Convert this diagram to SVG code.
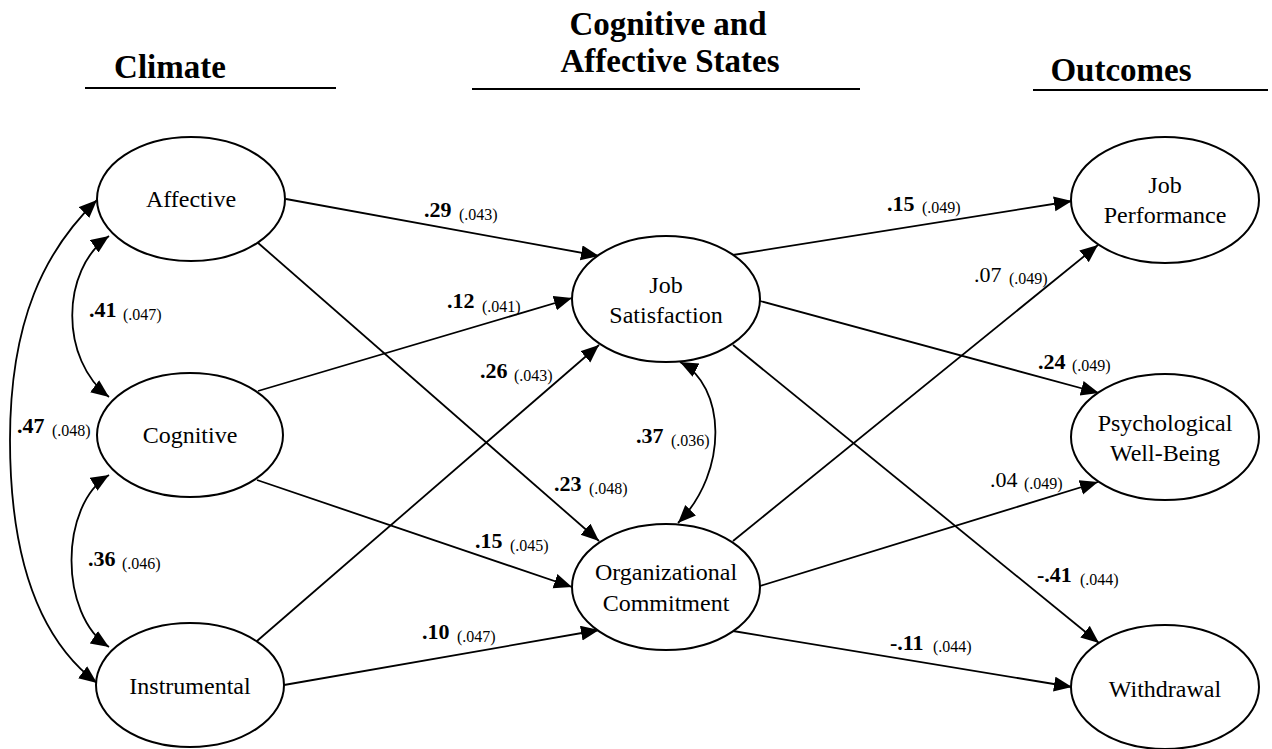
<svg xmlns="http://www.w3.org/2000/svg" width="1272" height="749" viewBox="0 0 1272 749">
<style>
text{font-family:"Liberation Serif","DejaVu Serif","Noto Serif",serif;fill:#000}
.hd{font-weight:bold;font-size:33px;text-anchor:middle}
.nd ellipse{fill:#fff;stroke:#000;stroke-width:2}
.nd text{font-size:24px;text-anchor:middle}
.cn path{fill:none;stroke:#000;stroke-width:1.8}
.b{font-weight:bold;font-size:22px}
.r{font-size:22px}
.s{font-size:16px}
.ul{stroke:#000;stroke-width:2}
</style>
<defs>
<marker id="ah" markerUnits="userSpaceOnUse" markerWidth="20" markerHeight="16" refX="18" refY="7.5" orient="auto-start-reverse" viewBox="0 0 20 16">
<path d="M0,0 L18,7.5 L0,15 z" fill="#000"/>
</marker>
</defs>
<rect width="1272" height="749" fill="#fff"/>
<g id="headers">
<text class="hd" x="170" y="78" font-family="Liberation Serif, serif">Climate</text>
<line class="ul" x1="85" y1="88" x2="336" y2="88"/>
<text class="hd" x="668" y="35">Cognitive and</text>
<text class="hd" x="670" y="72">Affective States</text>
<line class="ul" x1="472" y1="89" x2="860" y2="89"/>
<text class="hd" x="1121" y="81">Outcomes</text>
<line class="ul" x1="1033" y1="90" x2="1268" y2="90"/>
</g>
<g id="connectors" class="cn">
<path d="M286,199 L599,256" marker-end="url(#ah)"/>
<path d="M258,391 L572,298" marker-end="url(#ah)"/>
<path d="M257,641 L599,345" marker-end="url(#ah)"/>
<path d="M257,242 L599,541" marker-end="url(#ah)"/>
<path d="M257,480 L572,587" marker-end="url(#ah)"/>
<path d="M284,685 L599,630" marker-end="url(#ah)"/>
<path d="M680,362 C725,385 730,470 678,523" marker-start="url(#ah)" marker-end="url(#ah)"/>
<path d="M733,255 L1072,201" marker-end="url(#ah)"/>
<path d="M733,541 L1098,245" marker-end="url(#ah)"/>
<path d="M760,301 L1099,393" marker-end="url(#ah)"/>
<path d="M760,586 L1098,482" marker-end="url(#ah)"/>
<path d="M733,345 L1099,643" marker-end="url(#ah)"/>
<path d="M733,631 L1072,687" marker-end="url(#ah)"/>
<path d="M109,236 C60,270 60,360 109,397" marker-start="url(#ah)" marker-end="url(#ah)"/>
<path d="M109,475 C59,505 59,615 109,647" marker-start="url(#ah)" marker-end="url(#ah)"/>
<path d="M97,200 C45,250 10,320 10,440 C10,560 40,640 97,683" marker-start="url(#ah)" marker-end="url(#ah)"/>
</g>
<g id="labels">
<text><tspan class="b" x="424" y="217">.29</tspan><tspan class="s" x="459" y="220">(.043)</tspan></text>
<text><tspan class="b" x="447" y="308">.12</tspan><tspan class="s" x="482" y="312">(.041)</tspan></text>
<text><tspan class="b" x="480" y="378">.26</tspan><tspan class="s" x="514" y="381">(.043)</tspan></text>
<text><tspan class="b" x="554" y="491">.23</tspan><tspan class="s" x="589" y="494">(.048)</tspan></text>
<text><tspan class="b" x="475" y="548">.15</tspan><tspan class="s" x="510" y="551">(.045)</tspan></text>
<text><tspan class="b" x="422" y="639">.10</tspan><tspan class="s" x="457" y="642">(.047)</tspan></text>
<text><tspan class="b" x="636" y="443">.37</tspan><tspan class="s" x="671" y="446">(.036)</tspan></text>
<text><tspan class="b" x="887" y="211">.15</tspan><tspan class="s" x="922" y="213">(.049)</tspan></text>
<text><tspan class="r" x="974" y="282">.07</tspan><tspan class="s" x="1009" y="284">(.049)</tspan></text>
<text><tspan class="b" x="1038" y="369">.24</tspan><tspan class="s" x="1072" y="371">(.049)</tspan></text>
<text><tspan class="r" x="990" y="487">.04</tspan><tspan class="s" x="1024" y="489">(.049)</tspan></text>
<text><tspan class="b" x="1037" y="582">-.41</tspan><tspan class="s" x="1080" y="585">(.044)</tspan></text>
<text><tspan class="b" x="890" y="650">-.11</tspan><tspan class="s" x="933" y="652">(.044)</tspan></text>
<text><tspan class="b" x="89" y="317">.41</tspan><tspan class="s" x="123" y="320">(.047)</tspan></text>
<text><tspan class="b" x="88" y="566">.36</tspan><tspan class="s" x="122" y="569">(.046)</tspan></text>
<text><tspan class="b" x="17" y="433">.47</tspan><tspan class="s" x="52" y="436">(.048)</tspan></text>
</g>
<g id="affective" class="nd"><ellipse cx="191" cy="199" rx="94" ry="62"/><text x="191" y="207">Affective</text></g>
<g id="cognitive" class="nd"><ellipse cx="190" cy="435" rx="93" ry="62"/><text x="190" y="443">Cognitive</text></g>
<g id="instrumental" class="nd"><ellipse cx="190" cy="685" rx="94" ry="62"/><text x="190" y="694">Instrumental</text></g>
<g id="job-satisfaction" class="nd"><ellipse cx="666" cy="299" rx="94" ry="63"/><text x="666" y="293">Job</text><text x="666" y="323">Satisfaction</text></g>
<g id="org-commitment" class="nd"><ellipse cx="666" cy="587" rx="94" ry="63"/><text x="666" y="580">Organizational</text><text x="666" y="611">Commitment</text></g>
<g id="job-performance" class="nd"><ellipse cx="1165" cy="200" rx="94" ry="63"/><text x="1165" y="193">Job</text><text x="1165" y="223">Performance</text></g>
<g id="well-being" class="nd"><ellipse cx="1165" cy="437" rx="94" ry="63"/><text x="1165" y="431">Psychological</text><text x="1165" y="461">Well-Being</text></g>
<g id="withdrawal" class="nd"><ellipse cx="1165" cy="687" rx="94" ry="62"/><text x="1165" y="697">Withdrawal</text></g>
</svg>
